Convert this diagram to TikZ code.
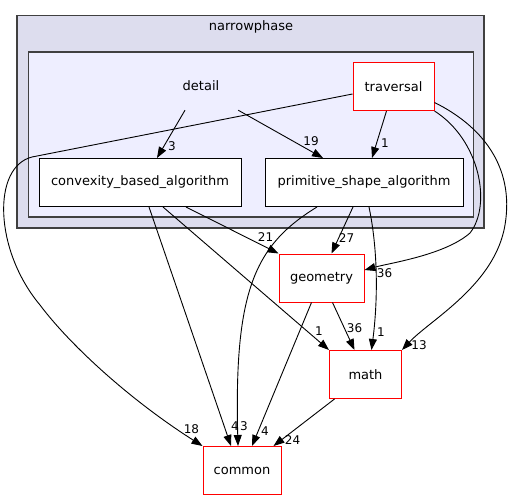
\documentclass[tikz,border=0pt]{standalone}
\usepackage{fontspec}
\setmainfont{DejaVu Sans}
\usetikzlibrary{arrows.meta}
\definecolor{clusterout}{RGB}{221,221,238}
\definecolor{clusterin}{RGB}{238,238,255}
\definecolor{clusterline}{RGB}{64,64,64}

\begin{document}
\begin{tikzpicture}[x=1pt, y=-1pt,
  d/.style={draw=black, fill=white, line width=1pt, minimum height=48pt, inner sep=0pt, font=\fontsize{13}{15}\selectfont},
  r/.style={d, draw=red},
  dep/.style={-{Triangle[length=11pt,width=8pt]}, line width=0.9pt},
  lbl/.style={font=\fontsize{12}{14}\selectfont, inner sep=0pt}]
  \useasboundingbox (0,0) rectangle (514,500);
  % clusters
  \draw[clusterline, fill=clusterout, line width=1.3pt] (17,15.5) rectangle (484,228);
  \node[font=\fontsize{13}{15}\selectfont] (narrowphase) at (251,27) {narrowphase};
  \draw[clusterline, fill=clusterin, line width=1.3pt] (28.5,52) rectangle (473.5,217);
  \node[minimum width=80pt, minimum height=48pt, inner sep=0pt, font=\fontsize{13}{15}\selectfont] (detail) at (201,86) {detail};
  % directories
  \node[r, minimum width=81pt] (trav) at (393.5,86.5) {traversal};
  \node[d, minimum width=202pt] (conv) at (140,182.5) {convexity\_based\_algorithm};
  \node[d, minimum width=198pt] (prim) at (364,182.5) {primitive\_shape\_algorithm};
  \node[r, minimum width=85pt] (geom) at (321.5,278) {geometry};
  \node[r, minimum width=72pt] (math) at (365.5,374.5) {math};
  \node[r, minimum width=78pt] (common) at (242,470.5) {common};
  % dependencies
  \draw[dep] ([xshift=-16pt]detail.south) -- ([xshift=17pt]conv.north) node[lbl, shift={(15,-12)}] {3};
  \draw[dep] ([xshift=-3pt]detail.south east) -- ([xshift=-41pt]prim.north) node[lbl, shift={(-12,-17)}] {19};
  \draw[dep] ([xshift=-7pt]trav.south) -- ([xshift=8pt]prim.north) node[lbl, shift={(13,-15)}] {1};
  \draw[dep] ([yshift=-7.5pt]trav.west) -- (32,157) .. controls (-8,167) and (-6,250) .. (40,305)
    .. controls (70,345) and (130,400) .. (common.north west) node[lbl, shift={(-11,-17)}] {18};
  \draw[dep] (trav.south east) .. controls (480,140) and (492,205) .. (470,233)
    .. controls (445,255) and (390,263) .. ([yshift=8pt]geom.east) node[lbl, shift={(20,3)}] {36};
  \draw[dep] ([yshift=-16pt]trav.east) .. controls (480,125) and (515,165) .. (505,225)
    .. controls (495,285) and (430,320) .. (math.north east) node[lbl, shift={(17,-5)}] {13};
  \draw[dep] ([xshift=9pt]conv.south) -- ([xshift=-11pt]common.north) node[lbl, shift={(4,-20)}] {4};
  \draw[dep] ([xshift=23pt]conv.south) -- (math.north west) node[lbl, shift={(-10,-19)}] {1};
  \draw[dep] ([xshift=46pt]conv.south) -- (geom.north west) node[lbl, shift={(-13,-16)}] {21};
  \draw[dep] ([xshift=-47pt]prim.south) .. controls (255,245) and (234,290) .. ([xshift=-4pt]common.north) node[lbl, shift={(6,-20)}] {3};
  \draw[dep] ([xshift=-11pt]prim.south) -- ([xshift=10pt]geom.north) node[lbl, shift={(15,-15)}] {27};
  \draw[dep] ([xshift=5pt]prim.south) .. controls (378,250) and (378,300) .. ([xshift=6pt]math.north) node[lbl, shift={(9.5,-18)}] {1};
  \draw[dep] ([xshift=-10pt]geom.south) -- ([xshift=10pt]common.north) node[lbl, shift={(13,-15)}] {4};
  \draw[dep] ([xshift=11pt]geom.south) -- ([xshift=-11pt]math.north) node[lbl, shift={(0,-22)}] {36};
  \draw[dep] ([xshift=-31pt]math.south) -- ([xshift=-8pt]common.north east) node[lbl, shift={(19,-6)}] {24};
\end{tikzpicture}
\end{document}
